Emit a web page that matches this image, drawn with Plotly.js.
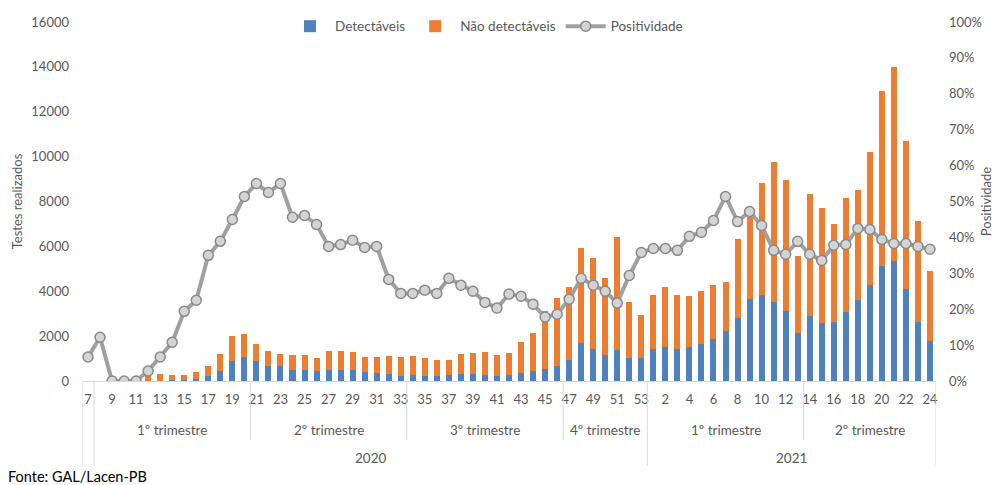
<!DOCTYPE html>
<html>
<head>
<meta charset="utf-8">
<script src="https://cdn.plot.ly/plotly-3.0.1.min.js"></script>
<style>html,body{margin:0;padding:0;background:#fff;}#chart{width:994px;height:485px;}</style>
</head>
<body>
<div id="chart"></div>
<script>
// Epidemiological weeks: 2020 (7..53) then 2021 (1..24)
const weeks = [7,8,9,10,11,12,13,14,15,16,17,18,19,20,21,22,23,24,25,26,27,28,29,30,31,32,33,34,35,36,37,38,39,40,41,42,43,44,45,46,47,48,49,50,51,52,53,
               1,2,3,4,5,6,7,8,9,10,11,12,13,14,15,16,17,18,19,20,21,22,23,24];
const yearCount2020 = 47;

const detectaveis = [1,1,0,0,0,6,22,29,48,70,230,460,900,1080,900,680,650,510,510,460,500,500,490,380,370,300,240,250,240,220,250,300,290,270,240,280,370,460,540,680,920,1690,1440,1140,1390,1020,1040,
                     1410,1510,1410,1510,1660,1880,2250,2800,3640,3840,3530,3140,2150,2900,2580,2620,3070,3590,4300,5130,5350,4090,2650,1780];
const naoDetectaveis = [14,7,5,10,30,214,308,241,202,340,450,750,1110,1020,770,640,560,650,650,550,850,820,790,670,700,810,810,860,770,710,670,910,970,1020,930,950,1350,1690,2560,3040,3260,4240,4030,3440,5050,2510,1900,
                        2410,2680,2430,2280,2340,2390,2150,3540,3760,4990,6220,5810,3430,5430,5140,4360,5080,4940,5920,7800,8640,6620,4480,3120];
const positividade = [0.067,0.122,0,0,0,0.028,0.067,0.108,0.194,0.225,0.35,0.389,0.45,0.514,0.55,0.525,0.55,0.456,0.461,0.436,0.375,0.38,0.392,0.372,0.375,0.283,0.244,0.244,0.253,0.244,0.286,0.267,0.25,0.219,0.203,0.242,0.236,0.214,0.178,0.186,0.228,0.286,0.267,0.25,0.217,0.294,0.358,
                      0.369,0.369,0.364,0.403,0.414,0.447,0.514,0.444,0.472,0.433,0.364,0.353,0.389,0.353,0.336,0.378,0.38,0.425,0.422,0.394,0.383,0.383,0.375,0.367];

// Grouping labels for the multi-level category axis
const trimesterLabels = ['1º trimestre','2º trimestre','3º trimestre','4º trimestre','1º trimestre','2º trimestre'];
const trimesterFirst = [1,14,27,40,47,60];
const trimesterLast  = [13,26,39,46,59,70];
const yearLabels = ['2020','2021'];
const yearFirst = [1,47];
const yearLast  = [46,70];

const cats = weeks.map((w,i) => (i < yearCount2020 ? '2020' : '2021') + '-' + String(w).padStart(2,'0'));
const tickvals = cats.filter((c,i) => i % 2 === 0);
const ticktext = weeks.filter((w,i) => i % 2 === 0).map(String);

const FONT = 'Lato, "Liberation Sans", sans-serif';
const TXT = '#595959';
const GRID = '#D9D9D9';

const traces = [
  {type:'bar', name:'Detectáveis', x:cats, y:detectaveis, marker:{color:'#4F81BD'}},
  {type:'bar', name:'Não detectáveis', x:cats, y:naoDetectaveis, marker:{color:'#ED7D31'}},
  {type:'scatter', mode:'lines+markers', name:'Positividade', x:cats, y:positividade, yaxis:'y2',
   line:{color:'#A0A0A0', width:4},
   marker:{size:10, color:'#D4D4D4', line:{color:'#8A8A8A', width:1.5}}}
];

const plotH = 360;
const py = px => -px / plotH;   // pixels below axis -> paper y

const shapes = [];
const sepLine = (xv, depth) => shapes.push({type:'line', xref:'x', yref:'paper', x0:xv, x1:xv, y0:0, y1:py(depth), line:{color:GRID, width:1}});
sepLine(-0.5, 85);
sepLine(0.5, 85);
trimesterLast.forEach((l) => {
  const isYearEnd = yearLast.includes(l);
  sepLine(l + 0.5, isYearEnd ? 85 : 59);
});

const annotations = [];
trimesterLabels.forEach((t,k) => annotations.push({
  text:t, xref:'x', yref:'paper', x:(trimesterFirst[k] + trimesterLast[k]) / 2, y:py(49),
  showarrow:false, font:{family:FONT, size:13.5, color:TXT}, yanchor:'middle'
}));
yearLabels.forEach((t,k) => annotations.push({
  text:t, xref:'x', yref:'paper', x:(yearFirst[k] + yearLast[k]) / 2, y:py(77),
  showarrow:false, font:{family:FONT, size:13.5, color:TXT}, yanchor:'middle'
}));
annotations.push({text:'Fonte: GAL/Lacen-PB', xref:'paper', yref:'paper', x:(6-82)/854, y:py(96),
  xanchor:'left', yanchor:'middle', showarrow:false, font:{family:FONT, size:14.5, color:'#000'}});

const layout = {
  width:994, height:485,
  margin:{l:82, r:58, t:21, b:104},
  paper_bgcolor:'#fff', plot_bgcolor:'#fff',
  font:{family:FONT, size:13, color:TXT},
  barmode:'stack', bargap:0.5,
  showlegend:true,
  legend:{orientation:'h', x:(285-82)/854, xanchor:'left', y:0.985, yanchor:'middle', traceorder:'normal',
          itemwidth:40, font:{family:FONT, size:13.5, color:TXT}, bgcolor:'rgba(0,0,0,0)'},
  xaxis:{type:'category', categoryorder:'array', categoryarray:cats, range:[-0.5, 70.5],
         tickmode:'array', tickvals:tickvals, ticktext:ticktext, tickangle:0,
         showline:true, linecolor:GRID, linewidth:1, showgrid:false, zeroline:false, ticks:'',
         ticklabelstandoff:6, tickfont:{family:FONT, size:13, color:TXT}},
  yaxis:{range:[0,16000], dtick:2000, showgrid:false, zeroline:false, showline:false, ticks:'',
         tickformat:'d', ticklabelstandoff:12,
         title:{text:'Testes realizados', standoff:5, font:{family:FONT, size:13, color:TXT}},
         tickfont:{family:FONT, size:13, color:TXT}},
  yaxis2:{overlaying:'y', side:'right', range:[0,1], dtick:0.1, tickformat:'.0%', showgrid:false,
          zeroline:false, showline:false, ticks:'', ticklabelstandoff:12,
          title:{text:'Positividade', standoff:8, font:{family:FONT, size:13, color:TXT}},
          tickfont:{family:FONT, size:13, color:TXT}},
  shapes:shapes,
  annotations:annotations
};

Plotly.newPlot('chart', traces, layout, {displayModeBar:false, staticPlot:true});
</script>
</body>
</html>
